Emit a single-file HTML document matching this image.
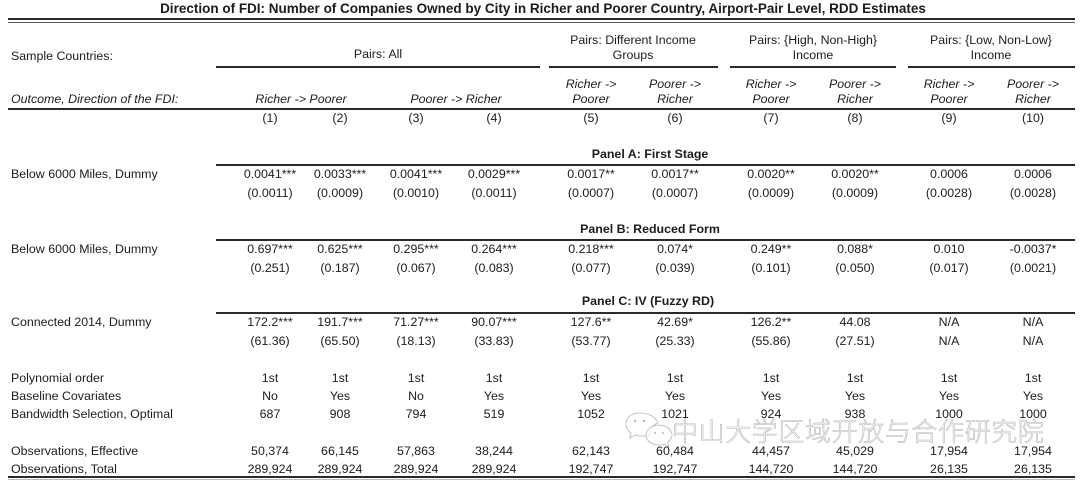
<!DOCTYPE html>
<html><head><meta charset="utf-8">
<style>
html,body{margin:0;padding:0;background:#fff;}
#w{position:relative;width:1080px;height:481px;overflow:hidden;background:#fff;font-family:"Liberation Sans",Arial,sans-serif;font-size:12.4px;color:#1c1c1c;}
.c{position:absolute;transform:translate(-50%,-50%);white-space:nowrap;line-height:14px;}
.l{position:absolute;transform:translateY(-50%);white-space:nowrap;line-height:14px;left:11px;}
.i{font-style:italic;}
.b{font-weight:bold;}
.r{position:absolute;background:#2a2a2a;}
.wm{position:absolute;left:672px;top:431px;transform:translateY(-50%);font-family:"Noto Sans CJK SC","WenQuanYi Zen Hei",sans-serif;font-size:26px;font-weight:300;letter-spacing:0.6px;color:rgba(255,255,255,0.75);-webkit-text-stroke:0.6px #b8b8b8;white-space:nowrap;line-height:30px;}
</style></head><body><div id="w">

<div class="c b" style="left:543px;top:9px;font-size:13.5px;">Direction of FDI: Number of Companies Owned by City in Richer and Poorer Country, Airport-Pair Level, RDD Estimates</div>
<div class="r" style="left:8px;top:18px;width:1067px;height:2px;"></div>
<div class="r" style="left:8px;top:22px;width:1067px;height:1px;background:#555;"></div>

<div class="l" style="top:56px;">Sample Countries:</div>
<div class="c" style="left:378px;top:54px;">Pairs: All</div>
<div class="c" style="left:633px;top:40px;">Pairs: Different Income</div>
<div class="c" style="left:633px;top:55px;">Groups</div>
<div class="c" style="left:813px;top:40px;">Pairs: {High, Non-High}</div>
<div class="c" style="left:813px;top:55px;">Income</div>
<div class="c" style="left:991px;top:40px;">Pairs: {Low, Non-Low}</div>
<div class="c" style="left:991px;top:55px;">Income</div>

<div class="r" style="left:216px;top:66px;width:324px;height:1.5px;"></div>
<div class="r" style="left:549px;top:66px;width:169px;height:1.5px;"></div>
<div class="r" style="left:730px;top:66px;width:166px;height:1.5px;"></div>
<div class="r" style="left:908px;top:66px;width:167px;height:1.5px;"></div>

<div class="l i" style="top:99px;">Outcome, Direction of the FDI:</div>
<div class="c i" style="left:301px;top:99px;">Richer -&gt; Poorer</div>
<div class="c i" style="left:456px;top:99px;">Poorer -&gt; Richer</div>
<div class="c i" style="left:591px;top:84px;">Richer -&gt;</div>
<div class="c i" style="left:591px;top:99px;">Poorer</div>
<div class="c i" style="left:675px;top:84px;">Poorer -&gt;</div>
<div class="c i" style="left:675px;top:99px;">Richer</div>
<div class="c i" style="left:771px;top:84px;">Richer -&gt;</div>
<div class="c i" style="left:771px;top:99px;">Poorer</div>
<div class="c i" style="left:855px;top:84px;">Poorer -&gt;</div>
<div class="c i" style="left:855px;top:99px;">Richer</div>
<div class="c i" style="left:949px;top:84px;">Richer -&gt;</div>
<div class="c i" style="left:949px;top:99px;">Poorer</div>
<div class="c i" style="left:1033px;top:84px;">Poorer -&gt;</div>
<div class="c i" style="left:1033px;top:99px;">Richer</div>

<div class="r" style="left:8px;top:108px;width:1067px;height:1.5px;"></div>

<div class="c" style="left:270px;top:118px;">(1)</div>
<div class="c" style="left:340px;top:118px;">(2)</div>
<div class="c" style="left:416px;top:118px;">(3)</div>
<div class="c" style="left:494px;top:118px;">(4)</div>
<div class="c" style="left:591px;top:118px;">(5)</div>
<div class="c" style="left:675px;top:118px;">(6)</div>
<div class="c" style="left:771px;top:118px;">(7)</div>
<div class="c" style="left:855px;top:118px;">(8)</div>
<div class="c" style="left:949px;top:118px;">(9)</div>
<div class="c" style="left:1033px;top:118px;">(10)</div>

<!-- Panel A -->
<div class="c b" style="left:650px;top:154px;">Panel A: First Stage</div>
<div class="r" style="left:216px;top:164px;width:859px;height:1.5px;"></div>
<div class="l" style="top:174px;">Below 6000 Miles, Dummy</div>
<div class="c" style="left:270px;top:174px;">0.0041***</div>
<div class="c" style="left:340px;top:174px;">0.0033***</div>
<div class="c" style="left:416px;top:174px;">0.0041***</div>
<div class="c" style="left:494px;top:174px;">0.0029***</div>
<div class="c" style="left:591px;top:174px;">0.0017**</div>
<div class="c" style="left:675px;top:174px;">0.0017**</div>
<div class="c" style="left:771px;top:174px;">0.0020**</div>
<div class="c" style="left:855px;top:174px;">0.0020**</div>
<div class="c" style="left:949px;top:174px;">0.0006</div>
<div class="c" style="left:1033px;top:174px;">0.0006</div>
<div class="c" style="left:270px;top:193px;">(0.0011)</div>
<div class="c" style="left:340px;top:193px;">(0.0009)</div>
<div class="c" style="left:416px;top:193px;">(0.0010)</div>
<div class="c" style="left:494px;top:193px;">(0.0011)</div>
<div class="c" style="left:591px;top:193px;">(0.0007)</div>
<div class="c" style="left:675px;top:193px;">(0.0007)</div>
<div class="c" style="left:771px;top:193px;">(0.0009)</div>
<div class="c" style="left:855px;top:193px;">(0.0009)</div>
<div class="c" style="left:949px;top:193px;">(0.0028)</div>
<div class="c" style="left:1033px;top:193px;">(0.0028)</div>

<!-- Panel B -->
<div class="c b" style="left:650px;top:229px;">Panel B: Reduced Form</div>
<div class="r" style="left:216px;top:239px;width:859px;height:1.5px;"></div>
<div class="l" style="top:249px;">Below 6000 Miles, Dummy</div>
<div class="c" style="left:270px;top:249px;">0.697***</div>
<div class="c" style="left:340px;top:249px;">0.625***</div>
<div class="c" style="left:416px;top:249px;">0.295***</div>
<div class="c" style="left:494px;top:249px;">0.264***</div>
<div class="c" style="left:591px;top:249px;">0.218***</div>
<div class="c" style="left:675px;top:249px;">0.074*</div>
<div class="c" style="left:771px;top:249px;">0.249**</div>
<div class="c" style="left:855px;top:249px;">0.088*</div>
<div class="c" style="left:949px;top:249px;">0.010</div>
<div class="c" style="left:1033px;top:249px;">-0.0037*</div>
<div class="c" style="left:270px;top:268px;">(0.251)</div>
<div class="c" style="left:340px;top:268px;">(0.187)</div>
<div class="c" style="left:416px;top:268px;">(0.067)</div>
<div class="c" style="left:494px;top:268px;">(0.083)</div>
<div class="c" style="left:591px;top:268px;">(0.077)</div>
<div class="c" style="left:675px;top:268px;">(0.039)</div>
<div class="c" style="left:771px;top:268px;">(0.101)</div>
<div class="c" style="left:855px;top:268px;">(0.050)</div>
<div class="c" style="left:949px;top:268px;">(0.017)</div>
<div class="c" style="left:1033px;top:268px;">(0.0021)</div>

<!-- Panel C -->
<div class="c b" style="left:648px;top:301px;">Panel C: IV (Fuzzy RD)</div>
<div class="r" style="left:216px;top:312px;width:859px;height:1.5px;"></div>
<div class="l" style="top:322px;">Connected 2014, Dummy</div>
<div class="c" style="left:270px;top:322px;">172.2***</div>
<div class="c" style="left:340px;top:322px;">191.7***</div>
<div class="c" style="left:416px;top:322px;">71.27***</div>
<div class="c" style="left:494px;top:322px;">90.07***</div>
<div class="c" style="left:591px;top:322px;">127.6**</div>
<div class="c" style="left:675px;top:322px;">42.69*</div>
<div class="c" style="left:771px;top:322px;">126.2**</div>
<div class="c" style="left:855px;top:322px;">44.08</div>
<div class="c" style="left:949px;top:322px;">N/A</div>
<div class="c" style="left:1033px;top:322px;">N/A</div>
<div class="c" style="left:270px;top:341px;">(61.36)</div>
<div class="c" style="left:340px;top:341px;">(65.50)</div>
<div class="c" style="left:416px;top:341px;">(18.13)</div>
<div class="c" style="left:494px;top:341px;">(33.83)</div>
<div class="c" style="left:591px;top:341px;">(53.77)</div>
<div class="c" style="left:675px;top:341px;">(25.33)</div>
<div class="c" style="left:771px;top:341px;">(55.86)</div>
<div class="c" style="left:855px;top:341px;">(27.51)</div>
<div class="c" style="left:949px;top:341px;">N/A</div>
<div class="c" style="left:1033px;top:341px;">N/A</div>

<!-- Specs -->
<div class="l" style="top:378px;">Polynomial order</div>
<div class="c" style="left:270px;top:378px;">1st</div>
<div class="c" style="left:340px;top:378px;">1st</div>
<div class="c" style="left:416px;top:378px;">1st</div>
<div class="c" style="left:494px;top:378px;">1st</div>
<div class="c" style="left:591px;top:378px;">1st</div>
<div class="c" style="left:675px;top:378px;">1st</div>
<div class="c" style="left:771px;top:378px;">1st</div>
<div class="c" style="left:855px;top:378px;">1st</div>
<div class="c" style="left:949px;top:378px;">1st</div>
<div class="c" style="left:1033px;top:378px;">1st</div>

<div class="l" style="top:396px;">Baseline Covariates</div>
<div class="c" style="left:270px;top:396px;">No</div>
<div class="c" style="left:340px;top:396px;">Yes</div>
<div class="c" style="left:416px;top:396px;">No</div>
<div class="c" style="left:494px;top:396px;">Yes</div>
<div class="c" style="left:591px;top:396px;">Yes</div>
<div class="c" style="left:675px;top:396px;">Yes</div>
<div class="c" style="left:771px;top:396px;">Yes</div>
<div class="c" style="left:855px;top:396px;">Yes</div>
<div class="c" style="left:949px;top:396px;">Yes</div>
<div class="c" style="left:1033px;top:396px;">Yes</div>

<div class="l" style="top:414px;">Bandwidth Selection, Optimal</div>
<div class="c" style="left:270px;top:414px;">687</div>
<div class="c" style="left:340px;top:414px;">908</div>
<div class="c" style="left:416px;top:414px;">794</div>
<div class="c" style="left:494px;top:414px;">519</div>
<div class="c" style="left:591px;top:414px;">1052</div>
<div class="c" style="left:675px;top:414px;">1021</div>
<div class="c" style="left:771px;top:414px;">924</div>
<div class="c" style="left:855px;top:414px;">938</div>
<div class="c" style="left:949px;top:414px;">1000</div>
<div class="c" style="left:1033px;top:414px;">1000</div>

<div class="l" style="top:451px;">Observations, Effective</div>
<div class="c" style="left:270px;top:451px;">50,374</div>
<div class="c" style="left:340px;top:451px;">66,145</div>
<div class="c" style="left:416px;top:451px;">57,863</div>
<div class="c" style="left:494px;top:451px;">38,244</div>
<div class="c" style="left:591px;top:451px;">62,143</div>
<div class="c" style="left:675px;top:451px;">60,484</div>
<div class="c" style="left:771px;top:451px;">44,457</div>
<div class="c" style="left:855px;top:451px;">45,029</div>
<div class="c" style="left:949px;top:451px;">17,954</div>
<div class="c" style="left:1033px;top:451px;">17,954</div>

<div class="l" style="top:469px;">Observations, Total</div>
<div class="c" style="left:270px;top:469px;">289,924</div>
<div class="c" style="left:340px;top:469px;">289,924</div>
<div class="c" style="left:416px;top:469px;">289,924</div>
<div class="c" style="left:494px;top:469px;">289,924</div>
<div class="c" style="left:591px;top:469px;">192,747</div>
<div class="c" style="left:675px;top:469px;">192,747</div>
<div class="c" style="left:771px;top:469px;">144,720</div>
<div class="c" style="left:855px;top:469px;">144,720</div>
<div class="c" style="left:949px;top:469px;">26,135</div>
<div class="c" style="left:1033px;top:469px;">26,135</div>

<div class="r" style="left:8px;top:476px;width:1067px;height:1.5px;"></div>
<div class="r" style="left:8px;top:479px;width:1067px;height:1px;background:#bbb;"></div>

<!-- watermark -->
<svg style="position:absolute;left:624px;top:410px;" width="50" height="40" viewBox="0 0 50 40">
  <g fill="rgba(255,255,255,0.7)" stroke="#b5b5b5" stroke-width="0.8">
    <path d="M15 3 C6 3 2 9 2 14 C2 18 4 21 7 23 L5.5 28 L11 25 C13 25.6 15 26 17 26 L26 26 C26 18 30 14 34 13 C32 7 25 3 15 3 Z"/>
    <path d="M35 15 C27 15 22 20 22 25 C22 31 28 35 35 35 C37 35 38.5 34.7 40 34.2 L45 37 L43.5 32.5 C46 30.5 48 28 48 25 C48 20 42 15 35 15 Z"/>
  </g>
  <g fill="#b8b8b8">
    <circle cx="11" cy="11" r="1.2"/><circle cx="20" cy="11" r="1.2"/>
    <circle cx="31" cy="23" r="1"/><circle cx="39" cy="23" r="1"/>
  </g>
</svg>
<div class="wm">中山大学区域开放与合作研究院</div>

</div></body></html>
